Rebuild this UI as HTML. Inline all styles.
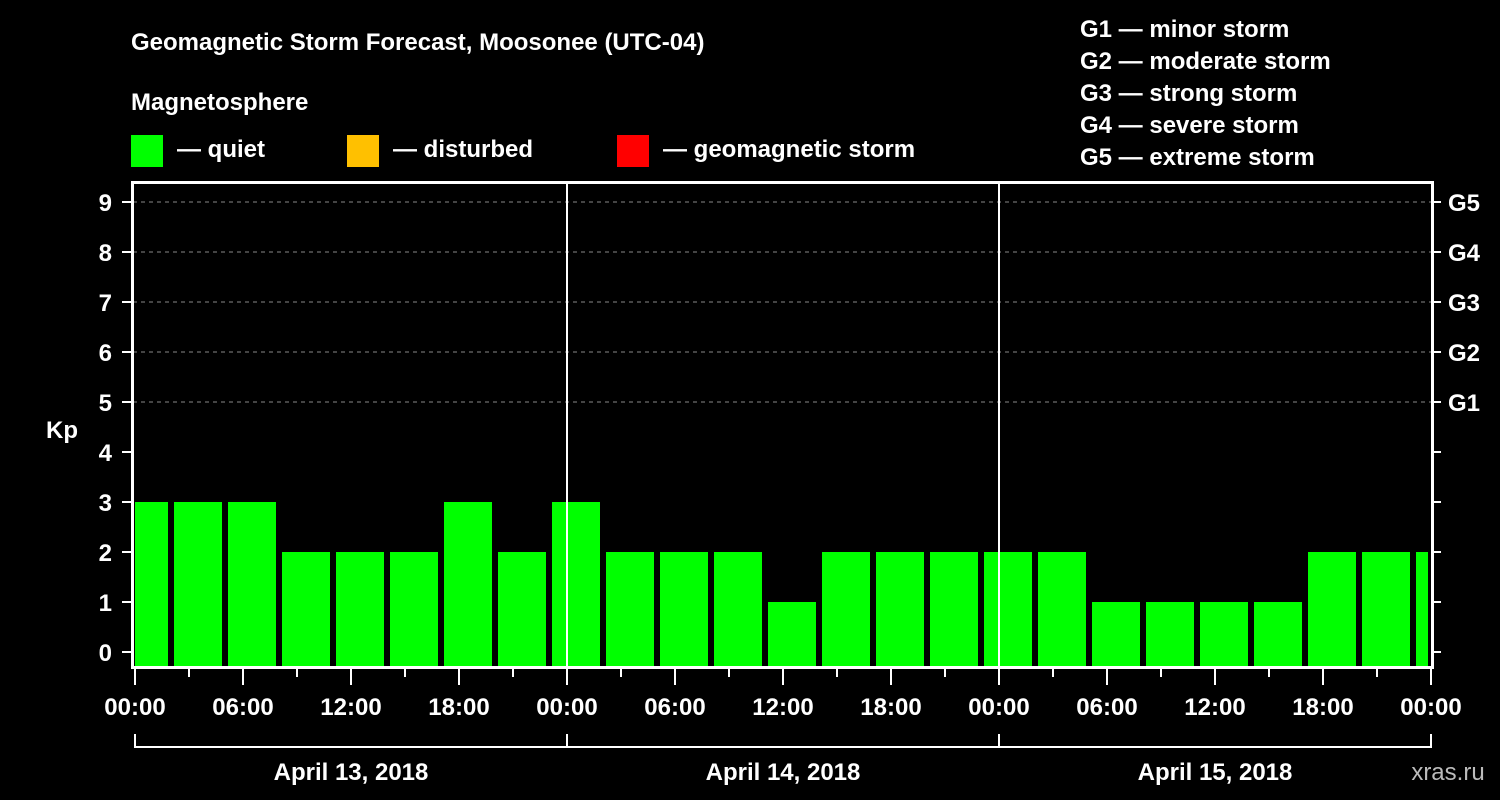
<!DOCTYPE html>
<html><head><meta charset="utf-8"><style>
html,body{margin:0;padding:0;background:#000;}
svg{display:block;font-family:"Liberation Sans",Arial,sans-serif;font-weight:bold;}
</style></head><body>
<svg width="1500" height="800" viewBox="0 0 1500 800">
<text x="131" y="50" fill="#fff" font-size="24">Geomagnetic Storm Forecast, Moosonee (UTC-04)</text>
<text x="131" y="110" fill="#fff" font-size="24">Magnetosphere</text>
<g><rect x="131" y="135" width="32" height="32" fill="#00ff00"/><text x="177" y="157" fill="#fff" font-size="24">— quiet</text></g>
<g><rect x="347" y="135" width="32" height="32" fill="#ffc000"/><text x="393" y="157" fill="#fff" font-size="24">— disturbed</text></g>
<g><rect x="617" y="135" width="32" height="32" fill="#ff0000"/><text x="663" y="157" fill="#fff" font-size="24">— geomagnetic storm</text></g>
<g fill="#fff" font-size="24">
<text x="1080" y="37">G1 — minor storm</text>
<text x="1080" y="69">G2 — moderate storm</text>
<text x="1080" y="101">G3 — strong storm</text>
<text x="1080" y="133">G4 — severe storm</text>
<text x="1080" y="165">G5 — extreme storm</text>
</g>
<text x="62" y="438" fill="#fff" font-size="24" text-anchor="middle">Kp</text>
<defs><clipPath id="pc"><rect x="135" y="183" width="1293" height="485"/></clipPath></defs>
<g id="grid"></g>
<g id="bars" clip-path="url(#pc)"></g>
<g id="axes"></g>
<text x="1448" y="780" fill="#bbb" font-size="24" text-anchor="middle" font-weight="normal">xras.ru</text>
</svg>
<script>
const kpValues=[3,3,3,2,2,2,3,2,3,2,2,2,1,2,2,2,2,2,1,1,1,1,2,2,2];
const yTicks=[0,1,2,3,4,5,6,7,8,9];
const gLabels=["G1","G2","G3","G4","G5"];
const gLevels=[5,6,7,8,9];
const dayLabels=["April 13, 2018","April 14, 2018","April 15, 2018"];
const timeLabels=["00:00","06:00","12:00","18:00"];
const NS="http://www.w3.org/2000/svg";
const X0=135,PXH=18,Y0=652,PXK=50;
const x=h=>X0+h*PXH, y=v=>Y0-v*PXK;
function mk(tag,attrs,parent,txt){const e=document.createElementNS(NS,tag);for(const k in attrs)e.setAttribute(k,attrs[k]);if(txt!==undefined)e.textContent=txt;document.getElementById(parent).appendChild(e);return e;}
yTicks.forEach(v=>{if(v>=5){const l=mk('line',{x1:133,x2:1432,y1:y(v),y2:y(v),stroke:'#888','stroke-dasharray':'4,4','stroke-width':1},'grid');

}});
kpValues.forEach((v,i)=>{const c=x(3*i+0.5);const col=v>=5?'#ff0000':(v>=4?'#ffc000':'#00ff00');
const r=mk('rect',{x:c-24,y:y(v),width:48,height:667-y(v),fill:col},'bars');

});
// axes box
const box=mk('rect',{x:132.5,y:182.5,width:1300,height:485,fill:'none',stroke:'#fff','stroke-width':3},'axes');


[1,2].forEach(d=>{const l=mk('line',{x1:x(24*d),x2:x(24*d),y1:182,y2:668,stroke:'#fff','stroke-width':2},'axes');

});
yTicks.forEach(v=>{mk('line',{x1:122,x2:132,y1:y(v),y2:y(v),stroke:'#fff','stroke-width':2},'axes');
mk('line',{x1:1432,x2:1441,y1:y(v),y2:y(v),stroke:'#fff','stroke-width':2},'axes');
const t=mk('text',{x:112,y:y(v)+9,fill:'#fff','font-size':24,'text-anchor':'end'},'axes',String(v));

});
gLabels.forEach((g,i)=>{const t=mk('text',{x:1448,y:y(gLevels[i])+9,fill:'#fff','font-size':24},'axes',g);

});
for(let h=0;h<=72;h+=3){const major=h%6===0;mk('line',{x1:x(h),x2:x(h),y1:668,y2:major?685:677,stroke:'#fff','stroke-width':2},'axes');
if(major){const t=mk('text',{x:x(h),y:715,fill:'#fff','font-size':24,'text-anchor':'middle'},'axes',timeLabels[(h/6)%4]);

}}
mk('line',{x1:x(0),x2:x(72),y1:747,y2:747,stroke:'#fff','stroke-width':2},'axes');
[0,24,48,72].forEach(h=>mk('line',{x1:x(h),x2:x(h),y1:734,y2:748,stroke:'#fff','stroke-width':2},'axes'));
dayLabels.forEach((d,i)=>{const t=mk('text',{x:x(24*i+12),y:780,fill:'#fff','font-size':24,'text-anchor':'middle'},'axes',d);

});
</script>
</body></html>
